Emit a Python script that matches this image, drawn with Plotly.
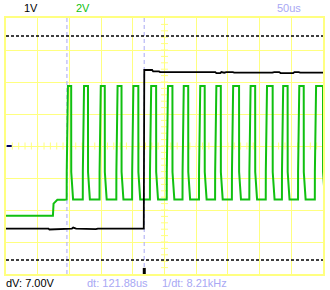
import plotly.graph_objects as go

# ---------------- data (time in microseconds, values in volts) ----------------
ch1_t_us = [0, 67, 68.5, 82.5, 85.7, 104, 106, 110.6, 141.7, 144.9, 217.3, 218.1,
            230.5, 232.1, 241.4, 243, 330.2, 331.8, 338, 339.6, 344.2, 347.4,
            358, 360, 420, 423, 431, 433, 453, 455, 462, 464, 500]
ch1_v = [-2.58, -2.58, -2.61, -2.60, -2.58, -2.58, -2.55, -2.58, -2.60, -2.58, -2.58, 2.375,
         2.375, 2.33, 2.33, 2.31, 2.31, 2.28, 2.28, 2.31, 2.29, 2.31,
         2.31, 2.29, 2.29, 2.31, 2.31, 2.28, 2.28, 2.31, 2.31, 2.29, 2.29]

ch2_pre_t_us = [0, 74, 75, 81, 92.5]
ch2_pre_v = [-4.36, -4.36, -3.6, -3.36, -3.36]
ch2_high_start_us = [97.7, 123.1, 149.5, 176.0, 200.9, 229.0, 255.5, 280.4,
                     306.4, 331.8, 358.3, 385.8, 411.7, 437.2, 462.6, 489.1]
ch2_high_end_us = [102.8, 129.3, 155.8, 182.2, 208.7, 236.8, 262.5, 287.4,
                   313.4, 338.8, 367.6, 393.0, 420.6, 444.2, 469.6, 500.0]
ch2_high_v = 3.75
ch2_low_v = -3.34
ch2_knee_v = -1.63

ch1_ref_v = 0.0
ch1_cursor_v = [3.44, -3.56]          # dV = 7.00 V
time_cursor_us = [96.1, 217.98]        # dt = 121.88 us
trigger_us = 218.1

ch1_scale = 1.0   # V/div
ch2_scale = 2.0   # V/div
time_div_us = 50
n_hdiv, n_vdiv = 10, 8

# ---------------- build ch2 path from read edge times ----------------
t2 = list(ch2_pre_t_us)
v2 = list(ch2_pre_v)
for a, b in zip(ch2_high_start_us, ch2_high_end_us):
    t2 += [a - 2.0, a - 1.9, a, b, b + 0.1, b + 3.0]
    v2 += [ch2_low_v, ch2_knee_v, ch2_high_v, ch2_high_v, ch2_knee_v, ch2_low_v]

y1 = [v / ch1_scale for v in ch1_v]
y2 = [v / ch2_scale for v in v2]

YEL = "#ffff80"
LAV = "#a8a8f4"
GRN = "#10c010"
FONT = "Liberation Sans"

fig = go.Figure()

# minor ticks on the centre lines
xt = [i * time_div_us / 5 for i in range(1, n_hdiv * 5)]
fig.add_trace(go.Scatter(x=xt, y=[0] * len(xt), mode="markers",
                         marker=dict(symbol="line-ns", size=5, line=dict(color=YEL, width=1)),
                         hoverinfo="skip"))
yt = [-n_vdiv / 2 + i / 5 for i in range(1, n_vdiv * 5)]
fig.add_trace(go.Scatter(x=[time_div_us * n_hdiv / 2] * len(yt), y=yt, mode="markers",
                         marker=dict(symbol="line-ew", size=5, line=dict(color=YEL, width=1)),
                         hoverinfo="skip"))

# time cursors
for tc in time_cursor_us:
    fig.add_trace(go.Scatter(x=[tc, tc], y=[-n_vdiv / 2, n_vdiv / 2], mode="lines",
                             line=dict(color=LAV, width=1, dash="4px,3px"), hoverinfo="skip"))
# voltage cursors
for vc in ch1_cursor_v:
    fig.add_trace(go.Scatter(x=[0, time_div_us * n_hdiv], y=[vc / ch1_scale] * 2, mode="lines",
                             line=dict(color="black", width=1.5, dash="3px,2px"), hoverinfo="skip"))

# traces
fig.add_trace(go.Scatter(x=t2, y=y2, mode="lines", line=dict(color=GRN, width=2), hoverinfo="skip"))
fig.add_trace(go.Scatter(x=ch1_t_us, y=y1, mode="lines", line=dict(color="black", width=1.8),
                         hoverinfo="skip"))

# ch1 ground marker and trigger marker
fig.add_trace(go.Scatter(x=[1, 9], y=[ch1_ref_v / ch1_scale] * 2, mode="lines",
                         line=dict(color="#000060", width=2), hoverinfo="skip"))
fig.add_trace(go.Scatter(x=[trigger_us, trigger_us], y=[-n_vdiv / 2, -n_vdiv / 2 + 0.19], mode="lines",
                         line=dict(color="black", width=3), hoverinfo="skip"))

L, R, T, B = 6, 5, 18, 16
W, H = 330, 290
pw, ph = W - L - R, H - T - B


def px(x):
    return (x - L) / pw


def py(y):
    return 1 - (y - T) / ph


ann = [
    dict(text="1V", x=px(22), y=py(8), xanchor="left", font=dict(color="black")),
    dict(text="2V", x=px(74), y=py(8), xanchor="left", font=dict(color=GRN)),
    dict(text="50us", x=px(277), y=py(8), xanchor="left", font=dict(color=LAV)),
    dict(text="dV: 7.00V", x=px(4), y=py(283), xanchor="left", font=dict(color="black")),
    dict(text="dt: 121.88us", x=px(85), y=py(283), xanchor="left", font=dict(color=LAV)),
    dict(text="1/dt: 8.21kHz", x=px(161), y=py(283), xanchor="left", font=dict(color=LAV)),
]
for a in ann:
    a.update(xref="paper", yref="paper", yanchor="middle", showarrow=False)
    a["font"].update(family=FONT, size=11)

axis_common = dict(showgrid=True, gridcolor=YEL, gridwidth=1, zeroline=False,
                   showticklabels=False, ticks="", showline=True, linecolor=YEL,
                   linewidth=2, mirror=True, fixedrange=True)
fig.update_layout(
    width=W, height=H, margin=dict(l=L, r=R, t=T, b=B),
    paper_bgcolor="white", plot_bgcolor="white", showlegend=False,
    xaxis=dict(range=[0, time_div_us * n_hdiv], dtick=time_div_us, **axis_common),
    yaxis=dict(range=[-n_vdiv / 2, n_vdiv / 2], dtick=1, **axis_common),
    annotations=ann,
)
fig.write_html("out.html", config={"displayModeBar": False})
